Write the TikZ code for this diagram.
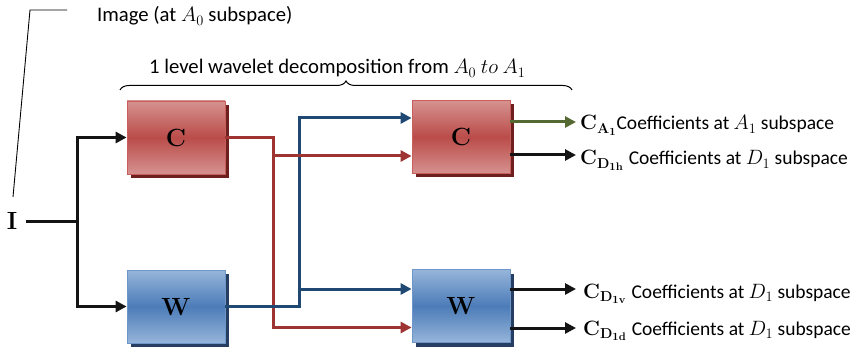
\documentclass[tikz,border=0pt]{standalone}
\usepackage[no-math]{fontspec}
\setmainfont{Carlito}
\usetikzlibrary{arrows.meta,shadows,decorations.pathreplacing}

\definecolor{boxredlight}{RGB}{214,146,144}
\definecolor{boxredmid}{RGB}{186,76,73}
\definecolor{boxrededge}{RGB}{200,95,92}
\definecolor{boxredshadow}{RGB}{110,32,30}
\definecolor{boxbluelight}{RGB}{150,181,218}
\definecolor{boxbluemid}{RGB}{76,124,184}
\definecolor{boxblueedge}{RGB}{110,150,200}
\definecolor{boxblueshadow}{RGB}{38,62,98}
\definecolor{wirered}{RGB}{158,52,50}
\definecolor{wireblue}{RGB}{31,73,115}
\definecolor{wiregreen}{RGB}{85,105,50}
\definecolor{wireblack}{RGB}{20,20,20}

% bold coefficient symbol with its subscript, set a little larger than the text
\newcommand{\coefsym}[1]{{\fontsize{22}{22}\selectfont$\mathbf{C}_{\mathbf{#1}}$}}

\tikzset{
  filterbox/.style={rectangle, minimum width=98pt, minimum height=73pt,
    inner sep=0pt, line width=0.8pt, font=\fontsize{24.5}{24.5}\selectfont},
  redbox/.style={filterbox, draw=boxrededge,
    top color=boxredlight, bottom color=boxredlight, middle color=boxredmid,
    drop shadow={shadow xshift=4pt, shadow yshift=-4pt, fill=boxredshadow, opacity=1}},
  bluebox/.style={filterbox, draw=boxblueedge,
    top color=boxbluelight, bottom color=boxbluelight, middle color=boxbluemid,
    drop shadow={shadow xshift=4pt, shadow yshift=-4pt, fill=boxblueshadow, opacity=1}},
  wire/.style={line width=3pt, line join=miter},
  tip/.style={-{Triangle[length=11pt,width=11pt]}},
  outlabel/.style={anchor=base west, inner sep=0pt, font=\fontsize{19.5}{19.5}\selectfont},
  caption/.style={anchor=base west, inner sep=0pt, font=\fontsize{20.7}{20.7}\selectfont},
}

\begin{document}
\begin{tikzpicture}[x=1pt, y=-1pt]
  \useasboundingbox (0,0) rectangle (852,350);

  % input signal
  \node[inner sep=0pt, font=\fontsize{27}{27}\selectfont] (I) at (12,221) {$\mathbf{I}$};
  \coordinate (split) at (77,221);

  % decomposition blocks
  \node[redbox]  (C1) at (176,137.5) {$\mathbf{C}$};
  \node[bluebox] (W1) at (176,306.5) {$\mathbf{W}$};
  \node[redbox]  (C2) at (461,137)   {$\mathbf{C}$};
  \node[bluebox] (W2) at (461,306)   {$\mathbf{W}$};

  % callout for the input image
  \node[caption] (imgtxt) at (97,22) {Image (at $A_0$ subspace)};
  \coordinate (callfoot) at (13,197);
  \coordinate (callknee) at (30,10);
  \coordinate (callend) at (67,10);
  \draw[line width=0.9pt] (callfoot) -- (callknee) -- (callend);

  % brace with its caption
  \coordinate (braceL) at (120,90);
  \coordinate (braceR) at (572,90);
  \draw[line width=1pt, decorate, decoration={brace, amplitude=9pt}] (braceL) -- (braceR);
  \node[caption] (bracetxt) at (149,74) {1 level wavelet decomposition from $A_0\ to\ A_1$};

  % input fan-out
  \draw[wire, wireblack] ([xshift=9pt]I.east) -- (split);
  \draw[wire, wireblack, tip] (split) |- (C1.west);
  \draw[wire, wireblack, tip] (split) |- (W1.west);

  % cross connections
  \coordinate (rsplit) at (273,156);
  \coordinate (bsplit) at (299,289);
  \draw[wire, wirered] (C1.east) -| (rsplit);
  \draw[wire, wirered, tip] (rsplit) |- ([yshift=-21.5pt]W2.west);
  \draw[wire, wireblue] (W1.east) -| (bsplit);
  \draw[wire, wireblue, tip] (bsplit) |- ([yshift=19pt]C2.west);
  \draw[wire, wireblue, tip] (bsplit) -- ([yshift=17pt]W2.west);
  \draw[wire, wirered, tip] (rsplit) -- ([yshift=-19pt]C2.west);

  % output coefficients
  \node[outlabel] (oA)  at (580,130) {\coefsym{A_1}Coefficients at $A_1$ subspace};
  \node[outlabel] (oDh) at (580,165) {\coefsym{D_{1h}}\hspace{5pt}Coefficients at $D_1$ subspace};
  \node[outlabel] (oDv) at (583,298) {\coefsym{D_{1v}}\hspace{5pt}Coefficients at $D_1$ subspace};
  \node[outlabel] (oDd) at (583,335) {\coefsym{D_{1d}}\hspace{5pt}Coefficients at $D_1$ subspace};

  \draw[wire, wiregreen, tip, shorten >=4pt] ([yshift=15pt]C2.east) -- (oA.west |- 0,122);
  \draw[wire, wireblack, tip, shorten >=4pt] ([yshift=-18pt]C2.east) -- (oDh.west |- 0,155);
  \draw[wire, wireblack, tip, shorten >=7pt] ([yshift=17pt]W2.east) -- (oDv.west |- 0,289);
  \draw[wire, wireblack, tip, shorten >=7pt] ([yshift=-22pt]W2.east) -- (oDd.west |- 0,328);
\end{tikzpicture}
\end{document}
